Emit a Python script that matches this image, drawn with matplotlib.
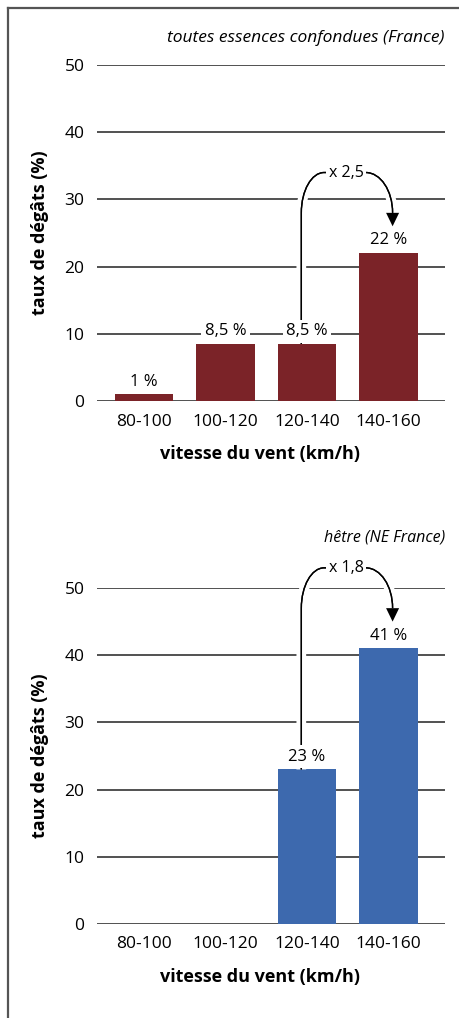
import numpy as np
import matplotlib.pyplot as plt
from matplotlib.path import Path
from matplotlib.patches import PathPatch, Polygon
from matplotlib.lines import Line2D
import matplotlib.patheffects as pe

plt.rcParams['font.family'] = ['Open Sans', 'DejaVu Sans']

# data
categories = ['80-100', '100-120', '120-140', '140-160']
all_species = [1, 8.5, 8.5, 22]          # toutes essences confondues
beech = [np.nan, np.nan, 23, 41]         # hêtre
titles = ['toutes essences confondues (France)', 'hêtre (NE France)']
ratio_labels = ['x 2,5', 'x 1,8']
ratio_pairs = [(2, 3), (2, 3)]            # from bar -> to bar
colors = ['#7b2328', '#3d69ae']
y_ticks = [0, 10, 20, 30, 40, 50]


def fmt_pct(v):
    return ('%g' % v).replace('.', ',') + ' %'


def ratio_arrow(ax, i0, v0, i1, v1, label):
    k = 0.5523
    xv = i0 - 0.07
    xa = i1 + 0.05
    peak = v1 + 12.0
    h = 6.0
    wl, wr = 0.28, 0.33
    verts = [(xv, v0), (xv, peak - h),
             (xv, peak - h + k * h), (xv + wl - k * wl, peak), (xv + wl, peak),
             (xa - wr, peak),
             (xa - wr + k * wr, peak), (xa, peak - h + k * h), (xa, peak - h)]
    codes = [Path.MOVETO, Path.LINETO,
             Path.CURVE4, Path.CURVE4, Path.CURVE4,
             Path.LINETO,
             Path.CURVE4, Path.CURVE4, Path.CURVE4]
    patch = PathPatch(Path(verts, codes), fc='none', ec='black', lw=1.0,
                      zorder=4, clip_on=False,
                      path_effects=[pe.withStroke(linewidth=7, foreground='white'),
                                    pe.Normal()])
    ax.add_patch(patch)
    head = Polygon([(xa - 0.08, peak - h), (xa + 0.08, peak - h), (xa, v1 + 4.0)],
                   closed=True, fc='black', ec='none', zorder=5, clip_on=False)
    ax.add_patch(head)
    ax.text((i0 + i1) / 2 - 0.02, peak, label, ha='center', va='center',
            fontsize=11.5, zorder=6, clip_on=False,
            bbox=dict(fc='white', ec='none', pad=2))


fig = plt.figure(figsize=(4.6, 10.18), dpi=100)

axes_pos = [[97/460, 617/1018, 348/460, 336/1018],
            [97/460, 94/1018, 348/460, 336/1018]]
title_y = [1 - 38/1018, 1 - 537/1018]
title_size = [12.5, 11.5]
series = [all_species, beech]

x = np.arange(len(categories))
for n in range(2):
    ax = fig.add_axes(axes_pos[n])
    vals = series[n]
    ax.bar(x, vals, width=0.72, color=colors[n], zorder=3)
    ax.set_xlim(-0.577, 3.693)
    ax.set_ylim(0, 50)
    ax.set_yticks(y_ticks)
    ax.set_xticks(x)
    ax.set_xticklabels(categories)
    ax.tick_params(length=0, labelsize=12.5)
    ax.tick_params(axis='x', pad=9)
    ax.tick_params(axis='y', pad=9)
    ax.yaxis.grid(True, color='#333333', lw=1.2)
    ax.set_axisbelow(True)
    for s in ax.spines.values():
        s.set_visible(False)
    ax.set_ylabel('taux de dégâts (%)', fontsize=13, fontweight='bold', labelpad=11)
    ax.set_xlabel('vitesse du vent (km/h)', fontsize=13, fontweight='bold', labelpad=11)
    ax.xaxis.label.set_x(0.468)

    for i, v in enumerate(vals):
        if np.isnan(v):
            continue
        ax.text(i, v + 1.9, fmt_pct(v), ha='center', va='center', fontsize=12,
                zorder=6, bbox=dict(fc='white', ec='none', pad=2.5))

    i0, i1 = ratio_pairs[n]
    ratio_arrow(ax, i0, vals[i0], i1, vals[i1], ratio_labels[n])

    fig.text(445/460, title_y[n], titles[n], ha='right', va='center',
             fontsize=title_size[n], style='italic')

# frame lines
fig.add_artist(Line2D([8/460, 8/460], [0, 1 - 7.5/1018], transform=fig.transFigure,
                      color='#555555', lw=1.6))
fig.add_artist(Line2D([8/460, 1], [1 - 7.5/1018, 1 - 7.5/1018], transform=fig.transFigure,
                      color='#555555', lw=1.6))

fig.savefig('out.png', dpi=100)
